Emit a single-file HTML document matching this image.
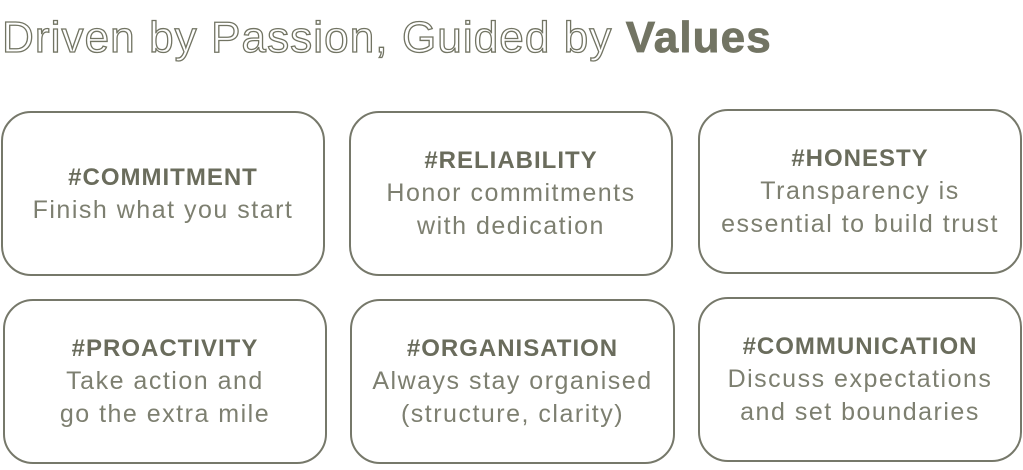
<!DOCTYPE html>
<html><head><style>
body{margin:0;width:1023px;height:470px;background:#fff;position:relative;overflow:hidden;font-family:"Liberation Sans",sans-serif;color:#727463}
h1{position:absolute;left:2px;top:13px;margin:0;font-size:44px;font-weight:normal;letter-spacing:1.1px;color:transparent;-webkit-text-stroke:1.3px #727463;white-space:nowrap}
h1 b{color:#727463;-webkit-text-stroke:0.8px #727463;font-weight:bold}
.b{position:absolute;border:2px solid #76786a;border-radius:30px;box-sizing:border-box;display:flex;flex-direction:column;justify-content:center;align-items:center;text-align:center;white-space:nowrap}
.b .t{font-weight:bold;font-size:24px;line-height:33px;letter-spacing:1px;color:#6a6c5c}
.b .d{font-size:25px;line-height:33px;letter-spacing:1.5px;color:#7d7f70}
</style></head><body>
<h1>Driven by Passion, Guided by <b>Values</b></h1>
<div class="b" style="left:1px;top:111px;width:324px;height:165px"><div class="t">#COMMITMENT</div><div class="d">Finish what you start</div></div>
<div class="b" style="left:349px;top:111px;width:324px;height:165px"><div class="t">#RELIABILITY</div><div class="d">Honor commitments<br>with dedication</div></div>
<div class="b" style="left:698px;top:109px;width:324px;height:165px"><div class="t">#HONESTY</div><div class="d">Transparency is<br>essential to build trust</div></div>
<div class="b" style="left:3px;top:299px;width:324px;height:165px"><div class="t">#PROACTIVITY</div><div class="d">Take action and<br>go the extra mile</div></div>
<div class="b" style="left:350px;top:299px;width:325px;height:165px"><div class="t">#ORGANISATION</div><div class="d">Always stay organised<br>(structure, clarity)</div></div>
<div class="b" style="left:698px;top:297px;width:324px;height:165px"><div class="t">#COMMUNICATION</div><div class="d">Discuss expectations<br>and set boundaries</div></div>
</body></html>
